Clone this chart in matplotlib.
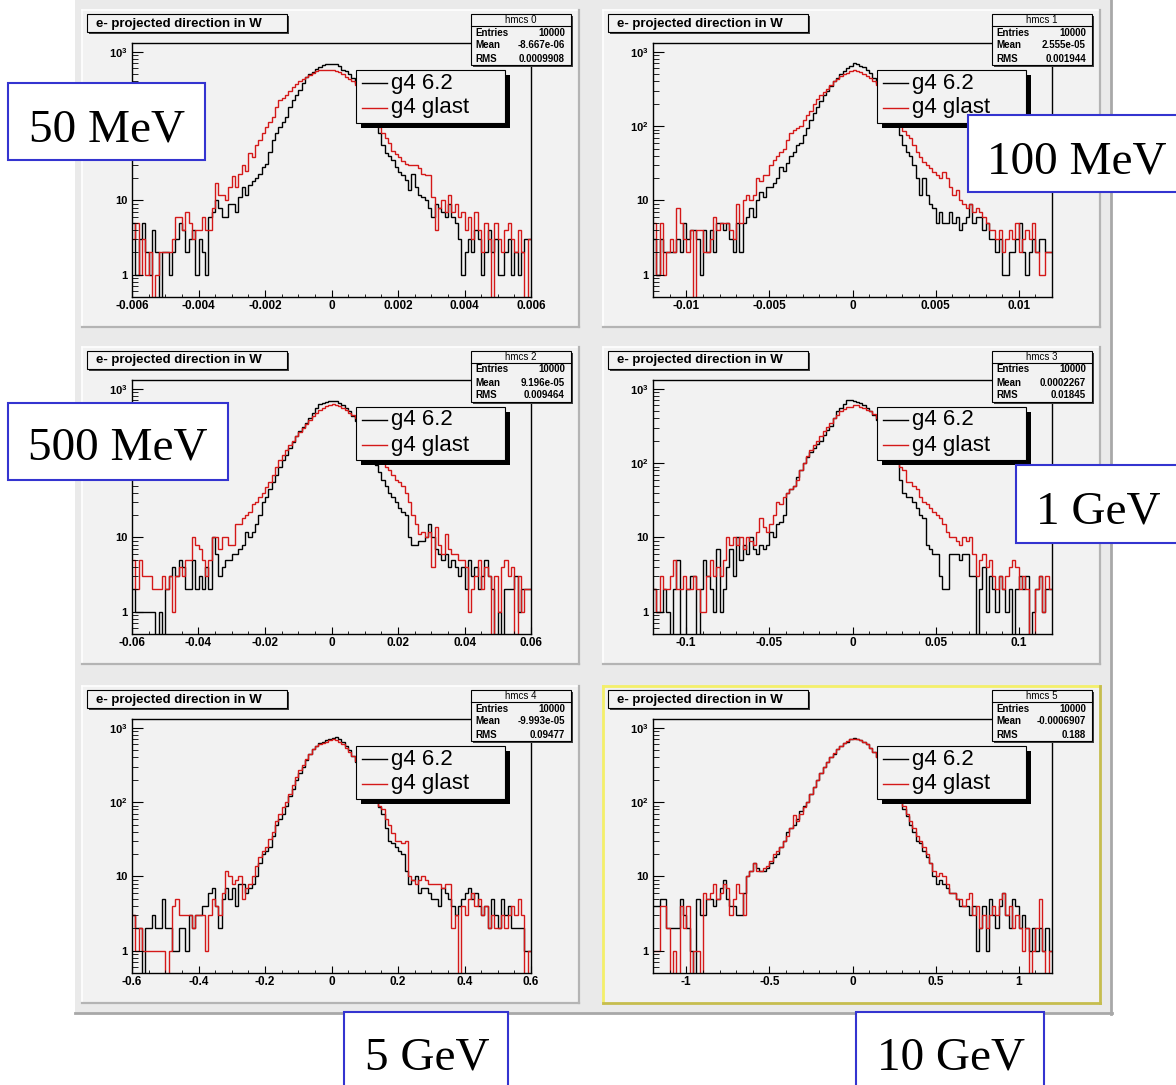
import numpy as np
import matplotlib
matplotlib.use('Agg')
from matplotlib import pyplot as plt
from matplotlib.patches import Rectangle
from matplotlib.ticker import MultipleLocator, LogLocator, NullFormatter

plt.rcParams['font.family'] = 'Liberation Sans'
plt.rcParams['mathtext.fontset'] = 'custom'
plt.rcParams['mathtext.rm'] = 'Liberation Sans:bold'
plt.rcParams['mathtext.bf'] = 'Liberation Sans:bold'

# ---- data (120 bins per histogram) ----
energies = ['50 MeV', '100 MeV', '500 MeV', '1 GeV', '5 GeV', '10 GeV']
x_half = [0.006, 0.012, 0.06, 0.12, 0.6, 1.2]
x_ticks = [
    [-0.006, -0.004, -0.002, 0, 0.002, 0.004, 0.006],
    [-0.01, -0.005, 0, 0.005, 0.01],
    [-0.06, -0.04, -0.02, 0, 0.02, 0.04, 0.06],
    [-0.1, -0.05, 0, 0.05, 0.1],
    [-0.6, -0.4, -0.2, 0, 0.2, 0.4, 0.6],
    [-1, -0.5, 0, 0.5, 1],
]
x_labels = [
    ['-0.006', '-0.004', '-0.002', '0', '0.002', '0.004', '0.006'],
    ['-0.01', '-0.005', '0', '0.005', '0.01'],
    ['-0.06', '-0.04', '-0.02', '0', '0.02', '0.04', '0.06'],
    ['-0.1', '-0.05', '0', '0.05', '0.1'],
    ['-0.6', '-0.4', '-0.2', '0', '0.2', '0.4', '0.6'],
    ['-1', '-0.5', '0', '0.5', '1'],
]
x_minor = [0.0005, 0.001, 0.005, 0.01, 0.05, 0.1]
y_ticks = [1, 10, 100, 1000]
y_labels = ['1', '10', r'$10^{2}$', r'$10^{3}$']
hist_names = ['hmcs 0', 'hmcs 1', 'hmcs 2', 'hmcs 3', 'hmcs 4', 'hmcs 5']
entries = ['10000'] * 6
means = ['-8.667e-06', '2.555e-05', '9.196e-05', '0.0002267', '-9.993e-05', '-0.0006907']
rms = ['0.0009908', '0.001944', '0.009464', '0.01845', '0.09477', '0.188']
legend_names = ['g4 6.2', 'g4 glast']

black_50mev = [5,1,3,5,2,1,4,2,0,2, 2,1,2,3,5,4,2,3,4,1, 3,2,1,6,7,10,8,6,6,9,
               9,7,11,15,12,16,18,20,23,28, 31,45,65,80,98,115,133,180,225,260,
               305,380,460,500,540,590,630,660,690,690, 690,690,650,570,560,500,440,380,320,260,
               210,170,130,100,80,55,43,40,35,28, 24,22,19,14,23,15,12,11,10,8,
               6,9,8,7,6,9,6,5,3,1, 2,3,2,4,3,1,2,4,2,3, 1,1,2,3,1,2,1,2,3,3]
red_50mev = [3,5,1,3,1,2,0,1,2,2, 2,2,3,6,6,4,7,5,3,4, 4,6,4,4,8,17,12,12,10,15,
             21,15,23,30,25,43,38,55,65,80, 98,115,133,180,225,240,260,300,340,370,
             400,430,460,490,515,550,570,570,570,575, 570,560,540,500,460,430,400,360,310,260,
             210,170,140,115,98,80,70,60,47,42, 38,34,31,30,30,30,27,23,22,22,
             11,4,8,10,7,12,7,9,6,7, 4,6,3,7,4,2,5,3,0,5, 3,2,4,5,3,2,4,2,0,3]

black_100mev = [3,1,3,2,2,2,2,3,2,5, 3,4,4,3,1,4,2,4,2,5, 5,4,5,3,2,5,2,5,6,8,
                6,10,13,11,15,15,17,20,28,25, 32,40,45,55,60,75,95,120,150,180,
                220,260,300,350,400,450,500,550,600,650, 720,690,650,620,580,520,450,380,320,260,
                210,170,130,100,75,55,45,40,30,20, 12,20,12,9,8,5,7,5,5,7,
                5,6,4,5,6,9,5,6,6,4, 5,3,3,2,3,1,1,2,2,3, 5,2,1,2,3,2,3,3,2,2]
red_100mev = [5,1,5,1,2,3,2,8,5,3, 2,4,0,4,4,2,2,3,6,4, 5,5,5,4,3,9,5,10,12,10,
              12,20,18,22,22,30,35,40,45,50, 65,80,90,95,100,120,140,160,200,230,
              260,290,320,360,400,430,470,500,520,550, 575,560,540,510,480,450,410,360,310,260,
              220,180,150,120,100,85,75,70,55,45, 38,33,30,27,24,22,20,24,20,15,
              12,14,10,9,8,9,7,8,7,6, 5,4,4,3,4,2,3,4,3,5, 2,3,4,3,5,2,1,1,2,2]

black_500mev = [2,1,1,1,1,1,1,0,1,0, 2,3,4,3,5,4,2,2,5,2, 3,2,4,2,10,6,3,4,5,5,
                6,6,7,8,12,10,12,15,20,30, 35,45,55,70,90,110,130,160,190,230,
                270,310,350,400,480,550,620,650,670,680, 680,680,650,600,550,500,430,370,310,260,
                210,170,130,95,75,60,50,40,35,30, 25,22,20,10,8,8,9,9,10,15,
                10,7,6,5,6,4,5,4,3,4, 2,5,3,4,2,3,5,3,2,0, 1,0,2,2,2,3,1,2,2,2]
red_500mev = [5,2,5,3,3,3,2,2,2,3, 2,3,1,3,4,3,5,5,10,8, 7,5,3,5,10,10,7,10,10,8,
              8,15,15,18,20,22,28,30,35,40, 48,55,70,90,110,130,150,175,200,230,
              260,300,340,380,430,480,520,560,590,610, 620,610,590,560,520,480,450,400,340,280,
              230,190,160,130,110,100,90,80,70,60, 55,50,40,30,20,15,11,12,10,12,
              4,14,8,6,11,7,6,6,5,5, 4,1,2,3,5,2,4,3,0,3, 1,4,5,3,4,0,3,1,2,2]

black_1gev = [2,1,1,2,1,0,2,5,0,0, 2,3,3,0,2,5,3,2,1,7, 1,2,4,7,3,10,5,8,6,10,
              7,6,8,7,8,12,10,15,16,20, 40,45,50,65,80,100,120,140,160,180,
              200,240,280,320,400,500,560,620,700,700, 690,670,650,600,550,500,440,380,320,260,
              200,160,130,100,60,40,35,35,30,25, 20,18,8,7,6,6,3,2,2,6,
              6,6,5,6,6,3,3,0,2,4, 1,3,2,1,3,2,1,2,0,2, 3,2,3,0,1,2,3,1,2,2]
red_1gev = [2,1,3,2,2,3,5,2,2,3, 2,2,3,2,1,1,3,5,3,4, 3,5,10,8,10,8,10,7,10,9,
            8,12,18,14,12,15,20,30,28,35, 40,45,50,60,80,100,125,150,175,200,
            230,270,310,350,400,450,500,540,570,580, 600,600,580,550,520,500,460,400,340,280,
            220,170,140,110,90,80,55,55,50,45, 35,30,28,25,22,20,18,15,12,10,
            10,9,8,10,9,10,6,3,5,6, 4,5,3,2,3,2,3,4,5,4, 2,3,2,0,0,2,3,1,3,2]

black_5gev = [3,2,2,0,2,2,3,2,2,5, 2,2,1,1,2,2,1,3,2,3, 3,4,4,6,7,4,2,5,7,5,
              7,4,8,8,6,7,8,10,15,20, 22,25,35,50,60,70,90,120,150,200,
              250,300,370,450,520,580,620,650,680,700, 730,750,720,650,580,500,420,350,290,230,
              180,150,120,100,85,70,45,30,28,25, 22,20,12,8,9,10,6,7,7,6,
              5,5,4,7,6,5,4,3,4,5, 6,7,5,6,4,3,4,2,5,3, 2,5,3,4,2,2,2,2,1,1]
red_5gev = [3,1,2,1,1,1,1,1,1,1, 0,1,4,5,3,3,3,3,2,3, 3,3,1,3,5,4,3,6,12,10,
            8,9,10,5,7,8,10,14,18,22, 25,32,40,55,70,85,100,130,170,220,
            270,320,380,450,520,570,600,620,650,680, 700,690,650,600,540,480,420,360,300,240,
            190,150,120,100,90,80,60,50,38,30, 30,28,30,10,9,8,9,10,9,8,
            8,8,8,7,8,8,2,3,0,4, 3,5,6,4,5,3,4,2,3,2, 2,3,2,3,4,3,5,3,0,1]

black_10gev = [4,4,5,5,2,2,2,2,5,3, 2,1,0,5,3,3,5,5,4,5, 7,9,5,4,4,3,3,6,10,12,
               15,13,12,12,13,15,18,20,25,30, 40,45,50,60,75,90,100,130,160,200,
               250,300,350,400,450,520,580,620,650,700, 730,720,680,640,600,540,480,410,350,290,
               230,190,150,120,100,80,65,50,40,30, 28,22,18,15,10,8,9,8,7,6,
               6,5,4,4,4,3,4,1,2,4, 1,5,3,2,4,6,3,2,5,4, 2,3,2,1,2,1,2,1,2,1]
red_10gev = [1,1,4,4,2,0,1,0,4,2, 4,0,1,1,0,6,5,6,8,5, 6,8,7,3,5,8,6,3,10,12,
             15,12,12,13,14,16,20,22,25,30, 35,45,68,55,70,85,100,130,160,200,
             250,300,350,400,460,520,580,630,660,700, 720,710,680,640,600,540,480,410,350,290,
             230,190,150,120,100,90,70,55,45,35, 30,25,20,15,12,10,11,10,8,6,
             6,5,5,4,5,6,3,4,2,3, 2,3,4,3,5,6,3,4,2,3, 2,1,2,0,1,2,5,1,0,1]

black_hists = [black_50mev, black_100mev, black_500mev, black_1gev, black_5gev, black_10gev]
red_hists = [red_50mev, red_100mev, red_500mev, red_1gev, red_5gev, red_10gev]

# ---- layout (pixels) ----
W, H = 1176, 1085
pad_x = [82, 603]
pad_top = [10, 347, 686]
pad_w, pad_h = 497, 317
pad_bg = '#f2f2f2'
red = '#d41818'

label_boxes = [  # x0, y0, x1, y1, text x, baseline y
    (8, 83, 205, 160, 107, 141),
    (968, 115, 1182, 192, 1077, 173),
    (8, 403, 228, 480, 118, 459),
    (1016, 465, 1182, 543, 1098, 524),
    (344, 1012, 508, 1092, 427, 1069),
    (856, 1012, 1044, 1092, 951, 1069),
]
# the 10^2 label sits under the energy box in the left column of the top two rows
hidden_y_label = [True, False, True, False, False, False]

fig = plt.figure(figsize=(W / 100, H / 100), dpi=100)

bg = fig.add_axes([0, 0, 1, 1], label='bg')
bg.set_xlim(0, W)
bg.set_ylim(H, 0)
bg.axis('off')
bg.set_zorder(0)

top = fig.add_axes([0, 0, 1, 1], label='top')
top.set_xlim(0, W)
top.set_ylim(H, 0)
top.axis('off')
top.patch.set_visible(False)
top.set_zorder(10)

# canvas
bg.add_patch(Rectangle((75, 0), 1037, 1013, fc='#eaeaea', ec='none'))
bg.plot([1111, 1111], [0, 1014], color='#a8a8a8', lw=2)
bg.plot([75, 1112], [1013, 1013], color='#a8a8a8', lw=2)

for i in range(6):
    r, c = divmod(i, 2)
    px, py = pad_x[c], pad_top[r]

    # pad with bevel
    bg.add_patch(Rectangle((px, py), pad_w, pad_h, fc=pad_bg, ec='none'))
    if i == 5:
        bg.plot([px, px + pad_w], [py, py], color='#f4ef6a', lw=2)
        bg.plot([px, px], [py, py + pad_h], color='#f4ef6a', lw=2)
        bg.plot([px, px + pad_w], [py + pad_h] * 2, color='#c6bd4e', lw=2)
        bg.plot([px + pad_w] * 2, [py, py + pad_h], color='#c6bd4e', lw=2)
    else:
        bg.plot([px, px + pad_w], [py, py], color='white', lw=1.2)
        bg.plot([px, px], [py, py + pad_h], color='white', lw=1.2)
        bg.plot([px, px + pad_w], [py + pad_h] * 2, color='#b4b4b4', lw=1.6)
        bg.plot([px + pad_w] * 2, [py, py + pad_h], color='#b4b4b4', lw=1.6)

    # histogram frame
    ax = fig.add_axes([(px + 50) / W, 1 - (py + 33 + 254) / H, 399 / W, 254 / H])
    ax.set_zorder(2)
    ax.set_facecolor(pad_bg)
    xh = x_half[i]
    edges = np.linspace(-xh, xh, 121)
    b = np.array(black_hists[i], dtype=float)
    rd = np.array(red_hists[i], dtype=float)
    ax.stairs(np.where(b > 0, b, 0.01), edges, color='black', lw=1.0, baseline=None)
    ax.stairs(np.where(rd > 0, rd, 0.01), edges, color=red, lw=1.0, baseline=None)
    ax.set_yscale('log')
    ax.set_xlim(-xh, xh)
    ax.set_ylim(0.5, 1320)
    ax.set_xticks(x_ticks[i], labels=x_labels[i], fontweight='bold', fontsize=8.5)
    ax.xaxis.set_minor_locator(MultipleLocator(x_minor[i]))
    ylab = list(y_labels)
    if hidden_y_label[i]:
        ylab[2] = ''
    ax.set_yticks(y_ticks, labels=ylab, fontweight='bold', fontsize=8)
    ax.yaxis.set_minor_locator(LogLocator(base=10, subs=np.arange(2, 10)))
    ax.yaxis.set_minor_formatter(NullFormatter())
    ax.tick_params(axis='x', which='major', direction='in', length=5, width=0.8, pad=2.5)
    ax.tick_params(axis='x', which='minor', direction='in', length=2.5, width=0.6)
    ax.tick_params(axis='y', which='major', direction='in', length=8, width=0.8, pad=3)
    ax.tick_params(axis='y', which='minor', direction='in', length=4.5, width=0.6)
    for s in ax.spines.values():
        s.set_linewidth(1.0)

    # title box
    top.add_patch(Rectangle((px + 7, py + 6), 200, 18, fc='#404040', ec='none'))
    top.add_patch(Rectangle((px + 5, py + 4), 200, 18, fc=pad_bg, ec='black', lw=0.8))
    top.text(px + 14, py + 13.5, 'e- projected direction in W', fontsize=9.5,
             fontweight='bold', va='center', ha='left')

    # stat box
    sx, sy = px + 389, py + 4
    top.add_patch(Rectangle((sx + 2, sy + 2), 100, 51, fc='#404040', ec='none'))
    top.add_patch(Rectangle((sx, sy), 100, 51, fc=pad_bg, ec='black', lw=0.8))
    top.plot([sx, sx + 100], [sy + 12, sy + 12], color='black', lw=0.8)
    top.text(sx + 50, sy + 6, hist_names[i], fontsize=7, ha='center', va='center')
    for k, (lab, val) in enumerate([('Entries', entries[i]), ('Mean', means[i]), ('RMS', rms[i])]):
        yy = sy + 18.5 + k * 13
        top.text(sx + 4, yy, lab, fontsize=7, fontweight='bold', ha='left', va='center')
        top.text(sx + 94, yy, val, fontsize=7, fontweight='bold', ha='right', va='center')

    # legend
    lx, ly = px + 274, py + 60
    top.add_patch(Rectangle((lx + 5, ly + 5), 149, 53, fc='black', ec='none'))
    top.add_patch(Rectangle((lx, ly), 149, 53, fc=pad_bg, ec='black', lw=0.8))
    for k, col in enumerate(['black', red]):
        yy = ly + 13 + k * 25
        top.plot([lx + 6, lx + 31], [yy, yy], color=col, lw=1.0)
        top.text(lx + 35, yy, legend_names[k], fontsize=16, ha='left', va='center')

# energy labels
for name, (x0, y0, x1, y1, tx, ty) in zip(energies, label_boxes):
    top.add_patch(Rectangle((x0, y0), x1 - x0, y1 - y0, fc='white', ec='#3434d0', lw=1.5))
    top.text(tx, ty, name, fontsize=34, family='Liberation Serif', ha='center', va='baseline')

fig.savefig('out.png', dpi=100)
